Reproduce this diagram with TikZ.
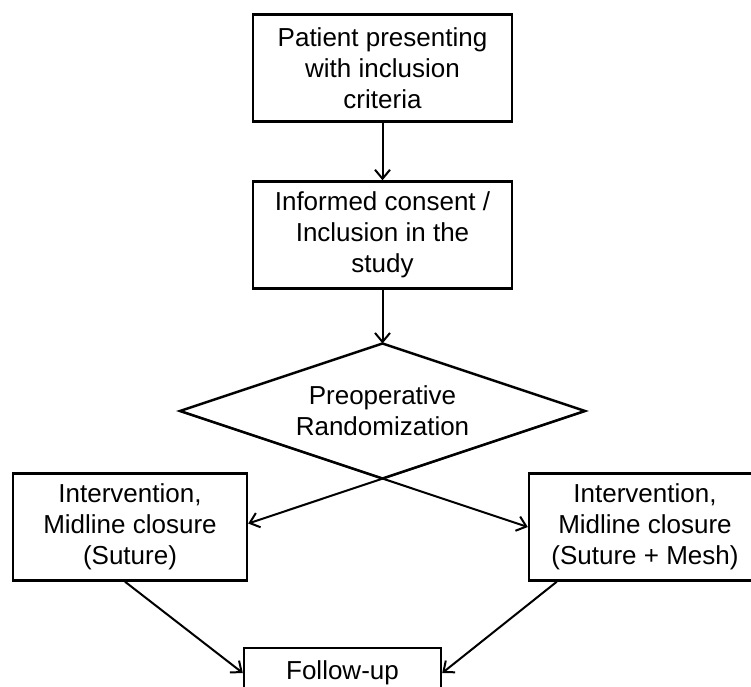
\documentclass[tikz,border=0pt]{standalone}
\usepackage{fontspec}
\setmainfont{Liberation Sans}
\usepackage{tikz}
\usetikzlibrary{arrows.meta,shapes,positioning}
\tikzstyle{arrow} = [line width=2pt,-{Straight Barb[length=9pt,width=15pt,line width=2pt]},color=black]
\tikzstyle{stepbox} = [rectangle, minimum width=259pt, minimum height=107pt, inner sep=0pt, text centered, align=center, draw=black, line width=2.4pt, font=\fontsize{26}{31}\selectfont]
\tikzstyle{decision} = [diamond, aspect=3.2, minimum width=405pt, minimum height=135pt, inner sep=0pt, outer sep=0pt, align=center, draw=black, line width=2.4pt, font=\fontsize{26}{31}\selectfont]

\begin{document}
\begin{tikzpicture}[x=1pt,y=1pt]
\clip (0,0) rectangle (751,-686);
% Enrolment
\node (patient) [stepbox] at (382.5,-68) {Patient presenting\\with inclusion\\criteria};

\node (consent) [stepbox, below of=patient, node distance=167pt] {Informed consent /\\Inclusion in the\\study};

\node (random) [decision, below of=consent, node distance=176pt] {Preoperative\\Randomization};

% Two arms
\node (suture) [stepbox, minimum width=234pt] at (130,-527) {Intervention,\\Midline closure\\(Suture)};

\node (mesh) [stepbox, minimum width=232pt] at (645,-527) {Intervention,\\Midline closure\\(Suture + Mesh)};

\node (followup) [stepbox, minimum width=197pt, minimum height=50pt] at (342.5,-673) {Follow-up};

\draw[arrow] (patient) -- (consent);
\draw[arrow] (consent) -- (random);
\draw[arrow] (random.west) -- (mesh.west);
\draw[arrow] (random.east) -- ([yshift=3.5pt]suture.east);
\draw[arrow] ([xshift=-5pt]suture.south) -- (followup.west);
\draw[arrow] ([xshift=29pt]mesh.south west) -- (followup.east);
\end{tikzpicture}
\end{document}
